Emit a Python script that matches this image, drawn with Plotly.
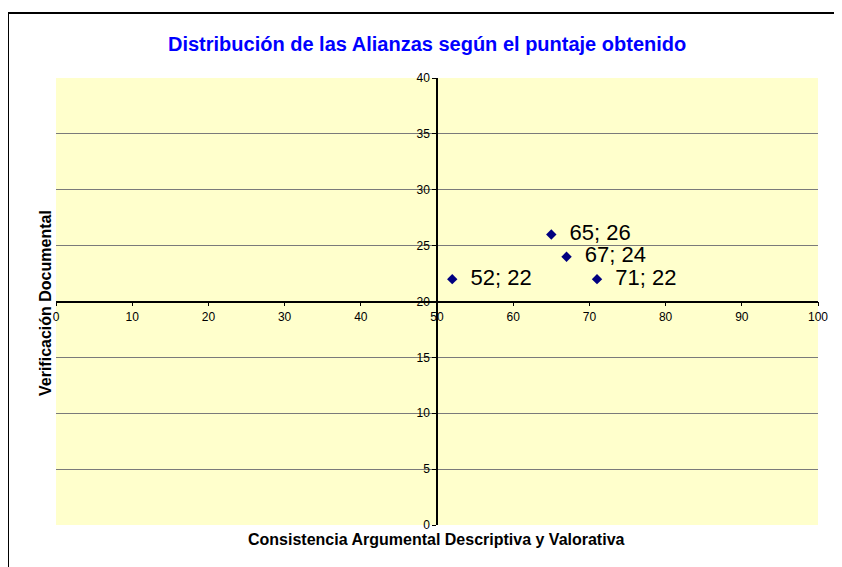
import plotly.graph_objects as go

# Data
x_vals = [52, 65, 67, 71]
y_vals = [22, 26, 24, 22]
point_labels = [f"  {x}; {y}" for x, y in zip(x_vals, y_vals)]
x_ticks = [0, 10, 20, 30, 40, 50, 60, 70, 80, 90, 100]
y_ticks = [0, 5, 10, 15, 20, 25, 30, 35, 40]

title_text = "Distribución de las Alianzas según el puntaje obtenido"
x_title = "Consistencia Argumental Descriptiva y Valorativa"
y_title = "Verificación Documental"

FONT = "Liberation Sans, Arial, sans-serif"

fig = go.Figure()
fig.add_trace(go.Scatter(
    x=x_vals, y=y_vals, mode="markers+text",
    text=point_labels, textposition="middle right",
    textfont=dict(family=FONT, size=22, color="black"),
    marker=dict(symbol="diamond", size=8, color="#000080"),
    cliponaxis=False, showlegend=False,
))

# page offset of 8px (body margin) handled in the figure coordinates
W, H = 842, 567
L, R, T, B = 48, 32, 70, 50
pw = W - L - R
ph = H - T - B


def px(xf):
    return (xf - L) / pw


def py(yf):
    return 1 - (yf - T) / ph


fig.update_layout(
    width=W, height=H,
    margin=dict(l=L, r=R, t=T, b=B),
    paper_bgcolor="white",
    plot_bgcolor="#FFFFCC",
    font=dict(family=FONT, size=12, color="black"),
    xaxis=dict(
        range=[0, 100], tickvals=x_ticks, ticktext=[str(v) for v in x_ticks],
        anchor="free", position=0.5, showline=True, linecolor="black", linewidth=1.5,
        ticks="outside", ticklen=4, tickcolor="black", showgrid=False, zeroline=False,
        tickfont=dict(size=12),
    ),
    yaxis=dict(
        range=[0, 40], tickvals=y_ticks, ticktext=[str(v) for v in y_ticks],
        anchor="free", position=0.5, showline=True, linecolor="black", linewidth=1.5,
        ticks="outside", ticklen=4, tickcolor="black", showgrid=True,
        gridcolor="#7a7a7a", gridwidth=1.3, zeroline=False,
        tickfont=dict(size=12),
    ),
    annotations=[
        dict(text=f"<b>{title_text}</b>", xref="paper", yref="paper",
             x=px(419), y=py(36), showarrow=False,
             font=dict(size=20, color="#0000FF"), xanchor="center", yanchor="middle"),
        dict(text=f"<b>{x_title}</b>", xref="paper", yref="paper",
             x=px(428), y=py(531), showarrow=False,
             font=dict(size=16, color="black"), xanchor="center", yanchor="middle"),
        dict(text=f"<b>{y_title}</b>", xref="paper", yref="paper",
             x=px(37), y=py(295), showarrow=False, textangle=-90,
             font=dict(size=16, color="black"), xanchor="center", yanchor="middle"),
    ],
    shapes=[
        dict(type="rect", xref="paper", yref="paper",
             x0=px(0), x1=px(W + 20), y0=py(H + 20), y1=py(5),
             line=dict(color="black", width=2), fillcolor="rgba(0,0,0,0)", layer="below"),
    ],
)

fig.write_html("out.html")
